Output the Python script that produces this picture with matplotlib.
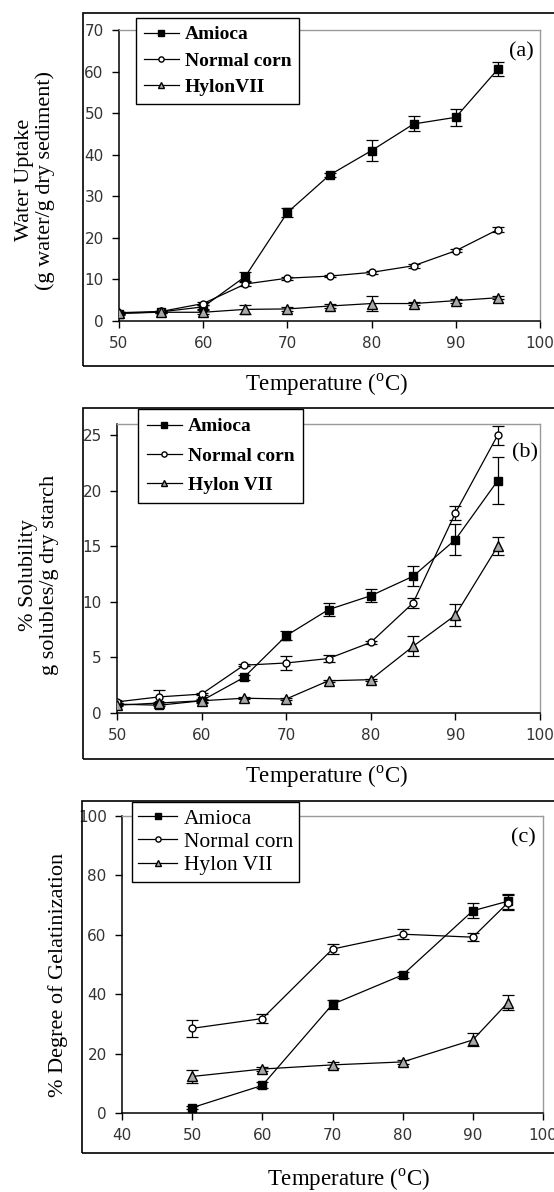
import numpy as np
import matplotlib
matplotlib.use('Agg')
import matplotlib.pyplot as plt
from matplotlib.patches import Rectangle
from matplotlib.lines import Line2D

plt.rcParams['mathtext.fontset'] = 'custom'
plt.rcParams['mathtext.rm'] = 'Liberation Serif'
SERIF = 'Liberation Serif'

W, H = 554, 1192

# (a) water uptake
temps_ab = [50, 55, 60, 65, 70, 75, 80, 85, 90, 95]
wu_amioca = [1.8, 2.2, 3.4, 10.7, 26.1, 35.1, 41.0, 47.4, 49.0, 60.6]
wu_amioca_err = [0.3, 0.3, 0.5, 1.0, 1.2, 0.5, 2.5, 1.8, 2.0, 1.6]
wu_normal = [2.0, 2.3, 4.2, 8.9, 10.3, 10.8, 11.7, 13.3, 16.9, 22.0]
wu_normal_err = [0.2, 0.2, 0.3, 0.4, 0.4, 0.3, 0.3, 0.5, 0.4, 0.7]
wu_hylon = [1.9, 2.1, 2.1, 2.8, 2.9, 3.6, 4.2, 4.2, 4.9, 5.6]
wu_hylon_err = [0.2, 0.2, 0.5, 1.1, 0.4, 0.5, 1.9, 0.4, 0.5, 0.3]

# (b) solubility
sol_amioca = [0.8, 0.7, 1.1, 3.2, 6.95, 9.3, 10.55, 12.3, 15.6, 20.9]
sol_amioca_err = [0.1, 0.1, 0.2, 0.2, 0.4, 0.6, 0.6, 0.9, 1.4, 2.1]
sol_normal = [1.0, 1.45, 1.7, 4.3, 4.5, 4.9, 6.35, 9.9, 18.0, 25.0]
sol_normal_err = [0.1, 0.6, 0.1, 0.1, 0.6, 0.3, 0.1, 0.45, 0.6, 0.85]
sol_hylon = [0.7, 0.9, 1.1, 1.33, 1.26, 2.9, 3.0, 6.0, 8.8, 15.0]
sol_hylon_err = [0.1, 0.1, 0.1, 0.1, 0.1, 0.1, 0.1, 0.9, 1.0, 0.8]

# (c) degree of gelatinization
temps_c = [50, 60, 70, 80, 90, 95]
gel_amioca = [1.8, 9.3, 36.6, 46.5, 68.1, 71.3]
gel_amioca_err = [0.5, 1.0, 1.6, 0.9, 2.5, 2.6]
gel_normal = [28.5, 31.8, 55.2, 60.2, 59.2, 70.8]
gel_normal_err = [2.8, 1.4, 1.6, 1.7, 1.3, 2.6]
gel_hylon = [12.3, 14.8, 16.2, 17.2, 24.6, 37.2]
gel_hylon_err = [2.2, 0.8, 1.0, 0.8, 2.2, 2.6]

styles = [dict(marker='s', mfc='black', mec='black', ms=5.5),
          dict(marker='o', mfc='white', mec='black', ms=5),
          dict(marker='^', mfc='#a8a8a8', mec='black', ms=6.5)]

fig = plt.figure(figsize=(W / 100, H / 100), dpi=100)


def px_axes(left, top, right, bottom):
    return fig.add_axes([left / W, 1 - bottom / H, (right - left) / W, (bottom - top) / H])


def panel(box, rect, x, series, names, xlim, ylim, yticks, xticks, ylabel, ylab_xy,
          xlab_xy, tag, tag_xy, leg_xy, leg_bold, leg_size, leg_space, leg_pad):
    # outer frame, cut off on the right
    x0, y0, y1 = box
    fig.add_artist(Rectangle((x0 / W, 1 - y1 / H), (W + 20 - x0) / W, (y1 - y0) / H,
                             transform=fig.transFigure, fill=False, ec='black', lw=1.2))
    ax = px_axes(*rect)
    for (y, e), st in zip(series, styles):
        ax.errorbar(x, y, yerr=e, color='black', lw=0.9, elinewidth=0.9, capsize=4,
                    capthick=0.9, zorder=3, **st)
    ax.set_xlim(*xlim)
    ax.set_ylim(*ylim)
    ax.set_xticks(xticks)
    ax.set_yticks(yticks)
    for s in ['left', 'bottom']:
        ax.spines[s].set_color('black')
        ax.spines[s].set_linewidth(1.1)
    for s in ['top', 'right']:
        ax.spines[s].set_color('#9a9a9a')
        ax.spines[s].set_linewidth(1.0)
    ax.tick_params(direction='out', length=5, width=1, colors='black', labelcolor='#333333',
                   labelsize=11, pad=6)
    for lab in ax.get_xticklabels() + ax.get_yticklabels():
        lab.set_family('DejaVu Sans')
    fig.text(ylab_xy[0] / W, 1 - ylab_xy[1] / H, ylabel, rotation=90, ha='center',
             va='center', multialignment='center', family=SERIF, fontsize=16, linespacing=1.15)
    fig.text(xlab_xy[0] / W, 1 - xlab_xy[1] / H, r'Temperature ($^{\rm o}$C)', ha='center',
             va='center', family=SERIF, fontsize=16.5)
    fig.text(tag_xy[0] / W, 1 - tag_xy[1] / H, tag, ha='center', va='center', family=SERIF,
             fontsize=16)
    handles = [Line2D([], [], color='black', lw=0.9, **dict(st, ms=st['ms'] * 0.75))
               for st in styles]
    leg = ax.legend(handles, names, loc='upper left',
                    bbox_to_anchor=(leg_xy[0] / W, 1 - leg_xy[1] / H),
                    bbox_transform=fig.transFigure, borderaxespad=0, fancybox=False,
                    framealpha=1, edgecolor='black', handlelength=1.8, handletextpad=0.3,
                    labelspacing=leg_space, borderpad=leg_pad,
                    prop=dict(family=SERIF, size=leg_size,
                              weight='bold' if leg_bold else 'normal'))
    leg.get_frame().set_linewidth(1.0)
    leg.set_zorder(10)
    return ax


panel((83, 13, 366), (119, 30, 540, 321), temps_ab,
      [(wu_amioca, wu_amioca_err), (wu_normal, wu_normal_err), (wu_hylon, wu_hylon_err)],
      ['Amioca', 'Normal corn', 'HylonVII'], (50, 100), (0, 70), range(0, 71, 10),
      range(50, 101, 10), 'Water Uptake\n(g water/g dry sediment)', (35, 180),
      (326, 385), '(a)', (521, 52), (136, 18), True, 14, 0.45, 0.4)

panel((83, 408, 759), (117, 424, 540, 713), temps_ab,
      [(sol_amioca, sol_amioca_err), (sol_normal, sol_normal_err), (sol_hylon, sol_hylon_err)],
      ['Amioca', 'Normal corn', 'Hylon VII'], (50, 100), (0, 26), range(0, 26, 5),
      range(50, 101, 10), '% Solubility\ng solubles/g dry starch', (39, 575),
      (326, 777), '(b)', (525, 453), (138, 409), True, 14, 0.6, 0.45)

panel((82, 801, 1153), (122, 816, 543, 1113), temps_c,
      [(gel_amioca, gel_amioca_err), (gel_normal, gel_normal_err), (gel_hylon, gel_hylon_err)],
      ['Amioca', 'Normal corn', 'Hylon VII'], (40, 100), (0, 100), range(0, 101, 20),
      range(40, 101, 10), '% Degree of Gelatinization', (58, 975),
      (348, 1180), '(c)', (523, 838), (132, 802), False, 15.5, 0.15, 0.3)

fig.savefig('out.png', dpi=100)
